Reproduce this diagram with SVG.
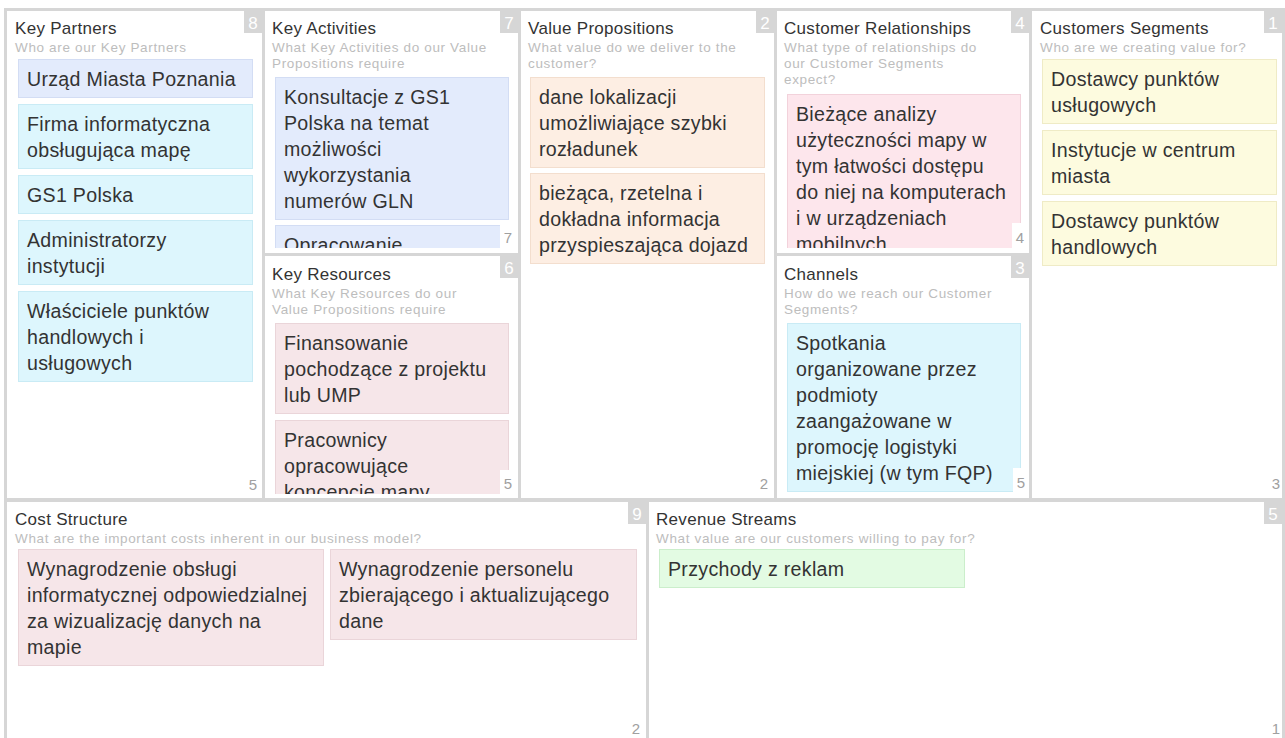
<svg xmlns="http://www.w3.org/2000/svg" width="1285" height="738" viewBox="0 0 1285 738">
<style>
text{font-family:"Liberation Sans",Arial,sans-serif}
.panel{fill:#fff}
.title{font-size:17px;fill:#333;letter-spacing:0.3px}
.sub{font-size:13.5px;fill:#bdbdbd;letter-spacing:0.65px}
.badge{fill:#d6d6d6}
.bnum{font-size:17px;fill:#fff;text-anchor:middle}
.nt{font-size:19.6px;fill:#333;letter-spacing:0.3px}
.cnt{font-size:15px;fill:#a0a0a0;text-anchor:end}
.cbox{fill:#fff}
.blue{fill:#e3ebfc;stroke:#d3ddf4;stroke-width:1}
.cyan{fill:#ddf6fd;stroke:#c9ebf5;stroke-width:1}
.peach{fill:#fdeee3;stroke:#f3dece;stroke-width:1}
.pink{fill:#fde6ec;stroke:#f2d2db;stroke-width:1}
.rose{fill:#f6e6e9;stroke:#ead5d9;stroke-width:1}
.yellow{fill:#fdfbdf;stroke:#efebc6;stroke-width:1}
.green{fill:#e3fbe3;stroke:#cbeecb;stroke-width:1}
</style>
<defs>
<clipPath id="clipKA"><rect x="265" y="11" width="253" height="237"/></clipPath>
<clipPath id="clipKR"><rect x="265" y="256" width="253" height="238"/></clipPath>
<clipPath id="clipCR"><rect x="777" y="11" width="252" height="237"/></clipPath>
<clipPath id="clipCH"><rect x="777" y="256" width="252" height="238"/></clipPath>
</defs>
<rect x="0" y="0" width="1285" height="738" fill="#fff"/>
<rect x="4" y="8" width="1281" height="730" fill="#d6d6d6"/>

<g id="key-partners">
<rect class="panel" x="7" y="11" width="255" height="487"/>
<rect class="badge" x="244" y="11" width="18" height="22"/><text class="bnum" x="253" y="29">8</text>
<text class="title" x="15" y="34">Key Partners</text>
<text class="sub" x="15" y="52">Who are our Key Partners</text>
<rect class="blue" x="18.5" y="59.5" width="234" height="38"/>
<text class="nt" x="27" y="86">Urząd Miasta Poznania</text>
<rect class="cyan" x="18.5" y="104.5" width="234" height="64"/>
<text class="nt" x="27" y="131">Firma informatyczna</text>
<text class="nt" x="27" y="157">obsługująca mapę</text>
<rect class="cyan" x="18.5" y="175.5" width="234" height="38"/>
<text class="nt" x="27" y="202">GS1 Polska</text>
<rect class="cyan" x="18.5" y="220.5" width="234" height="64"/>
<text class="nt" x="27" y="247">Administratorzy</text>
<text class="nt" x="27" y="273">instytucji</text>
<rect class="cyan" x="18.5" y="291.5" width="234" height="90"/>
<text class="nt" x="27" y="318">Właściciele punktów</text>
<text class="nt" x="27" y="344">handlowych i</text>
<text class="nt" x="27" y="370">usługowych</text>
<text class="cnt" x="257" y="490">5</text>
</g>

<g id="key-activities">
<rect class="panel" x="265" y="11" width="253" height="242"/>
<rect class="badge" x="500" y="11" width="18" height="22"/><text class="bnum" x="509" y="29">7</text>
<text class="title" x="272" y="34">Key Activities</text>
<text class="sub" x="272" y="52">What Key Activities do our Value</text>
<text class="sub" x="272" y="68">Propositions require</text>
<g clip-path="url(#clipKA)">
<rect class="blue" x="275.5" y="77.5" width="233" height="142"/>
<text class="nt" x="284" y="104">Konsultacje z GS1</text>
<text class="nt" x="284" y="130">Polska na temat</text>
<text class="nt" x="284" y="156">możliwości</text>
<text class="nt" x="284" y="182">wykorzystania</text>
<text class="nt" x="284" y="208">numerów GLN</text>
<rect class="blue" x="275.5" y="225.5" width="233" height="40"/>
<text class="nt" x="284" y="252">Opracowanie</text>
</g>
<rect class="cbox" x="500" y="225" width="18" height="23"/>
<text class="cnt" x="512" y="243">7</text>
</g>

<g id="key-resources">
<rect class="panel" x="265" y="256" width="253" height="242"/>
<rect class="badge" x="500" y="256" width="18" height="22"/><text class="bnum" x="509" y="274">6</text>
<text class="title" x="272" y="280">Key Resources</text>
<text class="sub" x="272" y="298">What Key Resources do our</text>
<text class="sub" x="272" y="314">Value Propositions require</text>
<g clip-path="url(#clipKR)">
<rect class="rose" x="275.5" y="323.5" width="233" height="90"/>
<text class="nt" x="284" y="350">Finansowanie</text>
<text class="nt" x="284" y="376">pochodzące z projektu</text>
<text class="nt" x="284" y="402">lub UMP</text>
<rect class="rose" x="275.5" y="420.5" width="233" height="90"/>
<text class="nt" x="284" y="447">Pracownicy</text>
<text class="nt" x="284" y="473">opracowujące</text>
<text class="nt" x="284" y="499">koncepcje mapy</text>
</g>
<rect class="cbox" x="500" y="470" width="18" height="24"/>
<text class="cnt" x="512" y="489">5</text>
</g>

<g id="value-propositions">
<rect class="panel" x="521" y="11" width="253" height="487"/>
<rect class="badge" x="756" y="11" width="18" height="22"/><text class="bnum" x="765" y="29">2</text>
<text class="title" x="528" y="34">Value Propositions</text>
<text class="sub" x="528" y="52">What value do we deliver to the</text>
<text class="sub" x="528" y="68">customer?</text>
<rect class="peach" x="530.5" y="77.5" width="234" height="90"/>
<text class="nt" x="539" y="104">dane lokalizacji</text>
<text class="nt" x="539" y="130">umożliwiające szybki</text>
<text class="nt" x="539" y="156">rozładunek</text>
<rect class="peach" x="530.5" y="173.5" width="234" height="90"/>
<text class="nt" x="539" y="200">bieżąca, rzetelna i</text>
<text class="nt" x="539" y="226">dokładna informacja</text>
<text class="nt" x="539" y="252">przyspieszająca dojazd</text>
<text class="cnt" x="768" y="489">2</text>
</g>

<g id="customer-relationships">
<rect class="panel" x="777" y="11" width="252" height="242"/>
<rect class="badge" x="1011" y="11" width="18" height="22"/><text class="bnum" x="1020" y="29">4</text>
<text class="title" x="784" y="34">Customer Relationships</text>
<text class="sub" x="784" y="52">What type of relationships do</text>
<text class="sub" x="784" y="68">our Customer Segments</text>
<text class="sub" x="784" y="84">expect?</text>
<g clip-path="url(#clipCR)">
<rect class="pink" x="787.5" y="94.5" width="233" height="168"/>
<text class="nt" x="796" y="121">Bieżące analizy</text>
<text class="nt" x="796" y="147">użyteczności mapy w</text>
<text class="nt" x="796" y="173">tym łatwości dostępu</text>
<text class="nt" x="796" y="199">do niej na komputerach</text>
<text class="nt" x="796" y="225">i w urządzeniach</text>
<text class="nt" x="796" y="251">mobilnych</text>
</g>
<rect class="cbox" x="1012" y="223" width="17" height="25"/>
<text class="cnt" x="1024" y="243">4</text>
</g>

<g id="channels">
<rect class="panel" x="777" y="256" width="252" height="242"/>
<rect class="badge" x="1011" y="256" width="18" height="22"/><text class="bnum" x="1020" y="274">3</text>
<text class="title" x="784" y="280">Channels</text>
<text class="sub" x="784" y="298">How do we reach our Customer</text>
<text class="sub" x="784" y="314">Segments?</text>
<g clip-path="url(#clipCH)">
<rect class="cyan" x="787.5" y="323.5" width="233" height="168"/>
<text class="nt" x="796" y="350">Spotkania</text>
<text class="nt" x="796" y="376">organizowane przez</text>
<text class="nt" x="796" y="402">podmioty</text>
<text class="nt" x="796" y="428">zaangażowane w</text>
<text class="nt" x="796" y="454">promocję logistyki</text>
<text class="nt" x="796" y="480">miejskiej (w tym FQP)</text>
</g>
<rect class="cbox" x="1013" y="468" width="16" height="26"/>
<text class="cnt" x="1025" y="488">5</text>
</g>

<g id="customer-segments">
<rect class="panel" x="1032" y="11" width="250" height="487"/>
<rect class="badge" x="1264" y="11" width="18" height="22"/><text class="bnum" x="1273" y="29">1</text>
<text class="title" x="1040" y="34">Customers Segments</text>
<text class="sub" x="1040" y="52">Who are we creating value for?</text>
<rect class="yellow" x="1042.5" y="59.5" width="234" height="64"/>
<text class="nt" x="1051" y="86">Dostawcy punktów</text>
<text class="nt" x="1051" y="112">usługowych</text>
<rect class="yellow" x="1042.5" y="130.5" width="234" height="64"/>
<text class="nt" x="1051" y="157">Instytucje w centrum</text>
<text class="nt" x="1051" y="183">miasta</text>
<rect class="yellow" x="1042.5" y="201.5" width="234" height="64"/>
<text class="nt" x="1051" y="228">Dostawcy punktów</text>
<text class="nt" x="1051" y="254">handlowych</text>
<text class="cnt" x="1280" y="489">3</text>
</g>

<g id="cost-structure">
<rect class="panel" x="7" y="502" width="639" height="236"/>
<rect class="badge" x="628" y="502" width="18" height="22"/><text class="bnum" x="637" y="520">9</text>
<text class="title" x="15" y="525">Cost Structure</text>
<text class="sub" x="15" y="543">What are the important costs inherent in our business model?</text>
<rect class="rose" x="18.5" y="549.5" width="305" height="116"/>
<text class="nt" x="27" y="576">Wynagrodzenie obsługi</text>
<text class="nt" x="27" y="602">informatycznej odpowiedzialnej</text>
<text class="nt" x="27" y="628">za wizualizację danych na</text>
<text class="nt" x="27" y="654">mapie</text>
<rect class="rose" x="330.5" y="549.5" width="306" height="90"/>
<text class="nt" x="339" y="576">Wynagrodzenie personelu</text>
<text class="nt" x="339" y="602">zbierającego i aktualizującego</text>
<text class="nt" x="339" y="628">dane</text>
<text class="cnt" x="640" y="734">2</text>
</g>

<g id="revenue-streams">
<rect class="panel" x="649" y="502" width="633" height="236"/>
<rect class="badge" x="1264" y="502" width="18" height="22"/><text class="bnum" x="1273" y="520">5</text>
<text class="title" x="656" y="525">Revenue Streams</text>
<text class="sub" x="656" y="543">What value are our customers willing to pay for?</text>
<rect class="green" x="659.5" y="549.5" width="305" height="38"/>
<text class="nt" x="668" y="576">Przychody z reklam</text>
<text class="cnt" x="1280" y="734">1</text>
</g>

<g id="connectors"></g>
</svg>
